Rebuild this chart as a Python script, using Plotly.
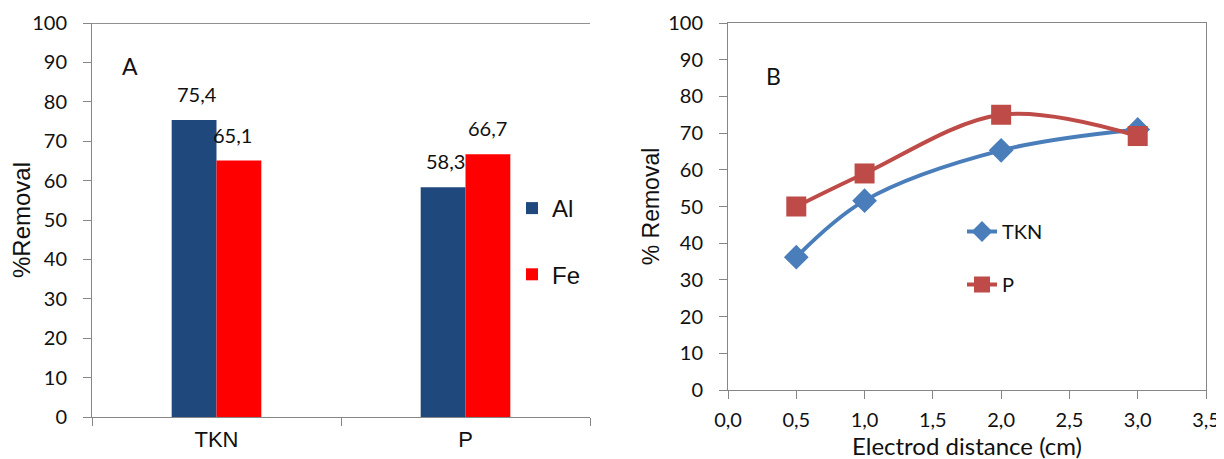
import plotly.graph_objects as go

# Panel A data
categories = ["TKN", "P"]
al_values = [75.4, 58.3]
fe_values = [65.1, 66.7]

# Panel B data
distance = [0.5, 1.0, 2.0, 3.0]
tkn_removal = [36.2, 51.6, 65.3, 71.0]
p_removal = [50.0, 59.0, 75.0, 69.2]

FONT = "Lato"
FONT_ARIAL = "Liberation Sans"
W, H = 1224, 459
OFF = 8  # the page body adds an 8px margin around the figure


def px(v):
    return (v - OFF) / W


def py(v):
    return 1 - (v - OFF) / H


def fmt(v):
    return f"{v:.1f}".replace(".", ",")


fig = go.Figure()

fig.add_trace(go.Bar(x=categories, y=al_values, name="Al", marker_color="#1F497D",
                     marker_line_width=0, xaxis="x", yaxis="y",
                     legend="legend", legendgroup="al"))
fig.add_trace(go.Bar(x=categories, y=fe_values, name="Fe", marker_color="#FF0000",
                     marker_line_width=0, xaxis="x", yaxis="y",
                     legend="legend", legendgroup="fe"))

fig.add_trace(go.Scatter(x=distance, y=tkn_removal, name="TKN", mode="lines+markers",
                         line=dict(color="#4A7EBB", width=4, shape="spline", smoothing=1.0),
                         marker=dict(symbol="diamond", size=19, color="#4A7EBB"),
                         xaxis="x2", yaxis="y2", legend="legend2", legendgroup="tkn"))
fig.add_trace(go.Scatter(x=distance, y=p_removal, name="P", mode="lines+markers",
                         line=dict(color="#BE4B48", width=4, shape="spline", smoothing=1.0),
                         marker=dict(symbol="square", size=20, color="#BE4B48"),
                         xaxis="x2", yaxis="y2", legend="legend2", legendgroup="p"))

axis_common = dict(showgrid=False, zeroline=False, showline=True, linecolor="#868686",
                   linewidth=1, ticks="outside", ticklen=8, tickcolor="#868686",
                   automargin=False)
ytick_font = dict(family=FONT, size=20, color="#111")

# value labels above bars (placed via data coordinates)
annotations = []
for i, cat in enumerate(categories):
    annotations.append(dict(text=fmt(al_values[i]), x=cat, y=al_values[i], xref="x", yref="y",
                            xshift=-20, yshift=12, yanchor="bottom", showarrow=False,
                            font=dict(family=FONT, size=20, color="#111")))
    annotations.append(dict(text=fmt(fe_values[i]), x=cat, y=fe_values[i], xref="x", yref="y",
                            xshift=(16 if i == 0 else 22), yshift=12, yanchor="bottom",
                            showarrow=False, font=dict(family=FONT, size=20, color="#111")))
annotations += [
    dict(text="A", x=px(130), y=py(66), xref="paper", yref="paper", showarrow=False,
         xanchor="center", yanchor="middle", font=dict(family=FONT, size=23, color="#111")),
    dict(text="B", x=px(773), y=py(76), xref="paper", yref="paper", showarrow=False,
         xanchor="center", yanchor="middle", font=dict(family=FONT, size=23, color="#111")),
]

fig.update_layout(
    template="none",
    width=W, height=H,
    margin=dict(l=0, r=0, t=0, b=0, autoexpand=False),
    paper_bgcolor="white", plot_bgcolor="white",
    font=dict(family=FONT, color="#111"),
    barmode="group", bargap=0.64, bargroupgap=0,
    xaxis=dict(domain=[px(92), px(590)], anchor="y", tickson="boundaries",
               ticklabelstandoff=3, tickfont=dict(family=FONT_ARIAL, size=22, color="#111"),
               **axis_common),
    yaxis=dict(domain=[py(417), py(23)], anchor="x", range=[0, 100], dtick=10,
               ticklabelstandoff=12, tickfont=ytick_font,
               title=dict(text="%Removal", font=dict(family=FONT_ARIAL, size=24), standoff=2),
               **axis_common),
    xaxis2=dict(domain=[px(728), px(1206)], anchor="y2", range=[0, 3.5], dtick=0.5,
                tickformat=".1f", mirror=True, ticklabelstandoff=4, tickfont=ytick_font,
                title=dict(text="Electrod distance (cm)", font=dict(family=FONT, size=24), standoff=8),
                **axis_common),
    yaxis2=dict(domain=[py(390), py(23)], anchor="x2", range=[0, 100], dtick=10,
                mirror=True, ticklabelstandoff=12, tickfont=ytick_font,
                title=dict(text="% Removal", font=dict(family=FONT_ARIAL, size=23), standoff=2),
                **axis_common),
    separators=",.",
    legend=dict(x=px(512), y=py(186), xanchor="left", yanchor="top",
                font=dict(family=FONT_ARIAL, size=24, color="#111"),
                bgcolor="rgba(0,0,0,0)", tracegroupgap=32, itemwidth=30),
    legend2=dict(x=px(962), y=py(212), xanchor="left", yanchor="top",
                 font=dict(family=FONT, size=20, color="#111"),
                 bgcolor="rgba(0,0,0,0)", tracegroupgap=24, itemwidth=30),
    showlegend=True,
    annotations=annotations,
    shapes=[dict(type="line", xref="x domain", yref="y", x0=0, x1=1, y0=100, y1=100,
                 line=dict(color="#222", width=1))],
)

fig.write_html("out.html")
